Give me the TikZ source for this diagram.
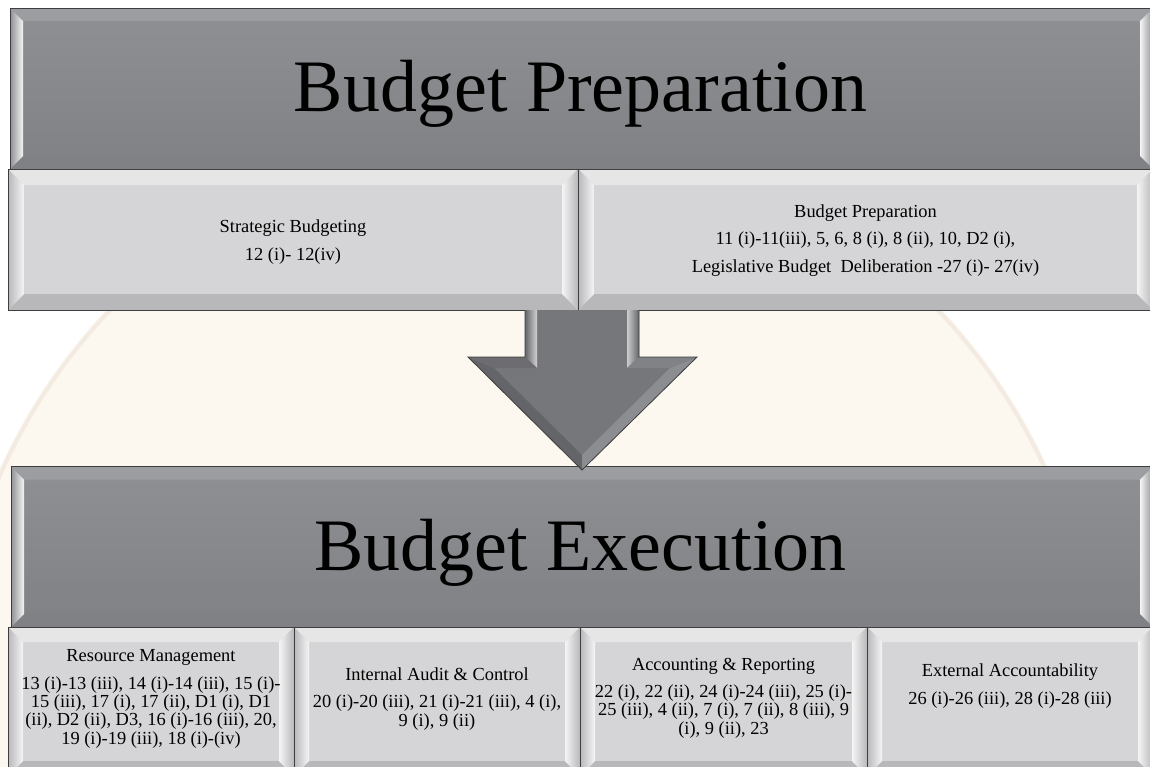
\documentclass[tikz,border=0pt]{standalone}
\usepackage{fontspec}
\setmainfont{Liberation Serif}
\usetikzlibrary{calc}

\definecolor{bigtop}{RGB}{143,144,148}
\definecolor{bigbot}{RGB}{128,129,133}
\definecolor{subfill}{RGB}{213,213,215}
\definecolor{subside}{RGB}{184,184,187}
\definecolor{boxline}{RGB}{62,62,64}
\definecolor{arrowfill}{RGB}{118,119,123}
\definecolor{arrowdark}{RGB}{100,101,105}
\definecolor{arrowlight}{RGB}{140,141,145}
\definecolor{sealfill}{RGB}{252,248,240}
\definecolor{sealring}{RGB}{243,235,226}

\tikzset{
  bigbox/.style={draw=boxline, line width=1pt, top color=bigtop, bottom color=bigbot, inner sep=0pt, outer sep=0pt},
  subbox/.style={draw=boxline, line width=1pt, fill=subfill, inner sep=0pt, outer sep=0pt},
  bigtext/.style={font=\fontsize{74}{74}\selectfont, inner sep=0pt, anchor=base},
  toptext/.style={font=\fontsize{18.4}{27.5}\selectfont, align=center, inner sep=0pt},
  subtext/.style={font=\fontsize{18.4}{18.4}\selectfont, align=center, inner sep=0pt},
}

\newcommand{\bevel}[5]{
  \fill[#3] (#1.north west) -- (#1.north east) -- ($(#1.north east)+(-#2,#2)$) -- ($(#1.north west)+(#2,#2)$) -- cycle;
  \fill[#4] (#1.south west) -- ($(#1.south west)+(#2,-#2)$) -- ($(#1.south east)+(-#2,-#2)$) -- (#1.south east) -- cycle;
  \shade[left color=#5, right color=white!92!gray] (#1.north west) -- ($(#1.north west)+(#2,#2)$) -- ($(#1.south west)+(#2,-#2)$) -- (#1.south west) -- cycle;
  \shade[left color=white!92!gray, right color=#5] (#1.north east) -- (#1.south east) -- ($(#1.south east)+(-#2,-#2)$) -- ($(#1.north east)+(-#2,#2)$) -- cycle;
  \draw[boxline, line width=1pt] (#1.north west) rectangle (#1.south east);
}

\begin{document}
\begin{tikzpicture}[x=1pt, y=-1pt]
\useasboundingbox (0,0) rectangle (1150,766);
\fill[white] (0,0) rectangle (1150,766);
\fill[sealfill] (524,705) circle (575pt);
\draw[sealring, line width=4pt] (524,705) circle (572pt);

\node[bigbox, minimum width=1143pt, minimum height=161pt] (prep) at (581.5,88.5) {};
\bevel{prep}{13}{bigtop!88!white}{bigbot}{bigtop}
\node[subbox, minimum width=570pt, minimum height=141pt] (strat) at (293,239.5) {};
\bevel{strat}{16}{subfill!60!white}{subside}{subside}
\node[subbox, minimum width=575pt, minimum height=141pt] (prepsub) at (865.5,239.5) {};
\bevel{prepsub}{16}{subfill!60!white}{subside}{subside}

\node[bigbox, minimum width=1142pt, minimum height=160.5pt] (exec) at (582,546.75) {};
\bevel{exec}{13}{bigtop!88!white}{bigbot}{bigtop}
\node[subbox, minimum width=286pt, minimum height=149pt] (res) at (151,701.5) {};
\bevel{res}{15}{subfill!60!white}{subside}{subside}
\node[subbox, minimum width=286pt, minimum height=149pt] (audit) at (437,701.5) {};
\bevel{audit}{15}{subfill!60!white}{subside}{subside}
\node[subbox, minimum width=287pt, minimum height=149pt] (acc) at (723.5,701.5) {};
\bevel{acc}{15}{subfill!60!white}{subside}{subside}
\node[subbox, minimum width=286pt, minimum height=149pt] (ext) at (1010,701.5) {};
\bevel{ext}{15}{subfill!60!white}{subside}{subside}

\coordinate (arrtop) at (582,310);
\coordinate (arrtip) at (582,470);
\fill[arrowfill] ($(arrtop)+(-57,0)$) -- ($(arrtop)+(57,0)$) -- ($(arrtop)+(57,47)$) -- ($(arrtop)+(115,47)$) -- (arrtip) -- ($(arrtop)+(-114,47)$) -- ($(arrtop)+(-57,47)$) -- cycle;
\shade[left color=arrowdark, right color=white!65!gray] ($(arrtop)+(-57,0)$) -- ($(arrtop)+(-45,0)$) -- ($(arrtop)+(-45,58)$) -- ($(arrtop)+(-57,47)$) -- cycle;
\shade[left color=white!60!gray, right color=arrowdark] ($(arrtop)+(45,0)$) -- ($(arrtop)+(57,0)$) -- ($(arrtop)+(57,47)$) -- ($(arrtop)+(45,58)$) -- cycle;
\fill[arrowdark] ($(arrtop)+(-114,47)$) -- (arrtip) -- ($(arrtip)+(0,-15)$) -- ($(arrtop)+(-88,58)$) -- cycle;
\fill[arrowlight] ($(arrtop)+(115,47)$) -- (arrtip) -- ($(arrtip)+(0,-15)$) -- ($(arrtop)+(88,58)$) -- cycle;
\fill[arrowfill!92!white] ($(arrtop)+(57,47)$) -- ($(arrtop)+(115,47)$) -- ($(arrtop)+(88,58)$) -- ($(arrtop)+(45,58)$) -- cycle;
\fill[arrowfill!92!black] ($(arrtop)+(-57,47)$) -- ($(arrtop)+(-114,47)$) -- ($(arrtop)+(-88,58)$) -- ($(arrtop)+(-45,58)$) -- cycle;
\draw[boxline, line width=0.8pt] ($(arrtop)+(-57,0)$) -- ($(arrtop)+(-57,47)$) -- ($(arrtop)+(-114,47)$) -- (arrtip) -- ($(arrtop)+(115,47)$) -- ($(arrtop)+(57,47)$) -- ($(arrtop)+(57,0)$);

\node[bigtext] (prepTitle) at (580.6,111.7) {Budget Preparation};
\node[toptext] (stratLbl) at (293,242) {Strategic Budgeting\\12 (i)- 12(iv)};
\node[toptext] (prepLbl) at (865.5,240.5) {Budget Preparation\\11 (i)-11(iii), 5, 6, 8 (i), 8 (ii), 10, D2 (i),\\Legislative Budget\ \ Deliberation -27 (i)- 27(iv)};

\node[bigtext] (execTitle) at (580.5,570) {Budget Execution};
\node[subtext] (resLbl) at (151,699) {Resource Management\\[9pt]13 (i)-13 (iii), 14 (i)-14 (iii), 15 (i)-\\15 (iii), 17 (i), 17 (ii), D1 (i), D1\\(ii), D2 (ii), D3, 16 (i)-16 (iii), 20,\\19 (i)-19 (iii), 18 (i)-(iv)};
\node[subtext] (auditLbl) at (437,698.7) {Internal Audit \& Control\\[9pt]20 (i)-20 (iii), 21 (i)-21 (iii), 4 (i),\\9 (i), 9 (ii)};
\node[subtext] (accLbl) at (723.5,698) {Accounting \& Reporting\\[9pt]22 (i), 22 (ii), 24 (i)-24 (iii), 25 (i)-\\25 (iii), 4 (ii), 7 (i), 7 (ii), 8 (iii), 9\\(i), 9 (ii), 23};
\node[subtext] (extLbl) at (1010,686) {External Accountability\\[9pt]26 (i)-26 (iii), 28 (i)-28 (iii)};
\end{tikzpicture}
\end{document}
